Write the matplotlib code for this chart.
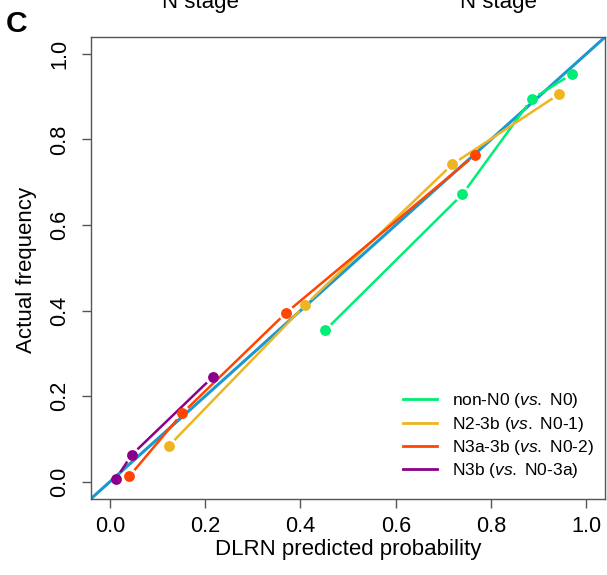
import numpy as np
import matplotlib
matplotlib.use("Agg")
import matplotlib.pyplot as plt
from matplotlib.lines import Line2D

plt.rcParams['font.family'] = ['Liberation Sans', 'DejaVu Sans']
plt.rcParams['mathtext.fontset'] = 'custom'
plt.rcParams['mathtext.rm'] = 'Liberation Sans'
plt.rcParams['mathtext.it'] = 'Liberation Sans:italic'

# calibration curves
labels = ["non-N0 ($\\mathit{vs.}$ N0)",
          "N2-3b ($\\mathit{vs.}$ N0-1)",
          "N3a-3b ($\\mathit{vs.}$ N0-2)",
          "N3b ($\\mathit{vs.}$ N0-3a)"]
colors = ["#00EE76", "#EEB422", "#FF4500", "#8B008B"]
pred = [[0.452, 0.740, 0.885, 0.970],
        [0.124, 0.410, 0.719, 0.943],
        [0.041, 0.152, 0.370, 0.767],
        [0.013, 0.046, 0.216]]
actual = [[0.354, 0.672, 0.894, 0.953],
          [0.084, 0.413, 0.742, 0.906],
          [0.013, 0.160, 0.395, 0.764],
          [0.007, 0.063, 0.245]]
ticks = [0.0, 0.2, 0.4, 0.6, 0.8, 1.0]
tick_labels = ["0.0", "0.2", "0.4", "0.6", "0.8", "1.0"]

fig = plt.figure(figsize=(6.07, 5.75), dpi=100)
ax = fig.add_axes([0.1494, 0.1322, 0.8481, 0.804])
ax.set_xlim(-0.04, 1.04)
ax.set_ylim(-0.04, 1.04)

ax.axline((0, 0), slope=1, color="#1B98D0", lw=2.2, zorder=1)


def gapped(ax, x, y, gap, **kw):
    # R style type="b": segments stop short of the points
    pts = ax.transData.transform(np.column_stack([x, y]))
    inv = ax.transData.inverted()
    for p0, p1 in zip(pts[:-1], pts[1:]):
        d = p1 - p0
        L = np.hypot(*d)
        if L <= 2 * gap:
            continue
        u = d / L
        a = inv.transform(p0 + u * gap)
        b = inv.transform(p1 - u * gap)
        ax.plot([a[0], b[0]], [a[1], b[1]], **kw)


for px, py, c in zip(pred, actual, colors):
    gapped(ax, px, py, 8, color=c, lw=1.8, zorder=2, solid_capstyle='butt')
    ax.plot(px, py, 'o', color=c, ms=7.8, mec='none', zorder=3)

ax.set_xticks(ticks)
ax.set_xticklabels(tick_labels)
ax.set_yticks(ticks)
ax.set_yticklabels(tick_labels, rotation=90, va='center')
ax.tick_params(length=6.5, width=1.0, color="#555555", labelsize=15.7)
ax.tick_params(axis='x', pad=5.8)
ax.tick_params(axis='y', pad=8.4)
for s in ax.spines.values():
    s.set_color("#555555")
    s.set_linewidth(1.0)

fig.text(348 / 607, 1 - 549 / 575, "DLRN predicted probability",
         ha='center', va='center', fontsize=16)
fig.text(27 / 607, 1 - 270 / 575, "Actual frequency",
         ha='center', va='center', rotation=90, fontsize=16)
fig.text(16.5 / 607, 1 - 24 / 575, "C", ha='center', va='center',
         fontsize=21.6, fontweight='bold')
fig.text(200 / 607, 1 - 8 / 575, "N stage", ha='center', va='baseline', fontsize=16)
fig.text(498 / 607, 1 - 8 / 575, "N stage", ha='center', va='baseline', fontsize=16)

handles = [Line2D([], [], color=c, lw=2.0) for c in colors]
ax.legend(handles, labels, loc='center left', bbox_to_anchor=(403 / 607, 1 - 435.8 / 575),
          bbox_transform=fig.transFigure, frameon=False, borderpad=0, borderaxespad=0,
          handlelength=1.95, handletextpad=0.88, labelspacing=0.25, fontsize=12.5)

fig.savefig("out.png", dpi=100)
